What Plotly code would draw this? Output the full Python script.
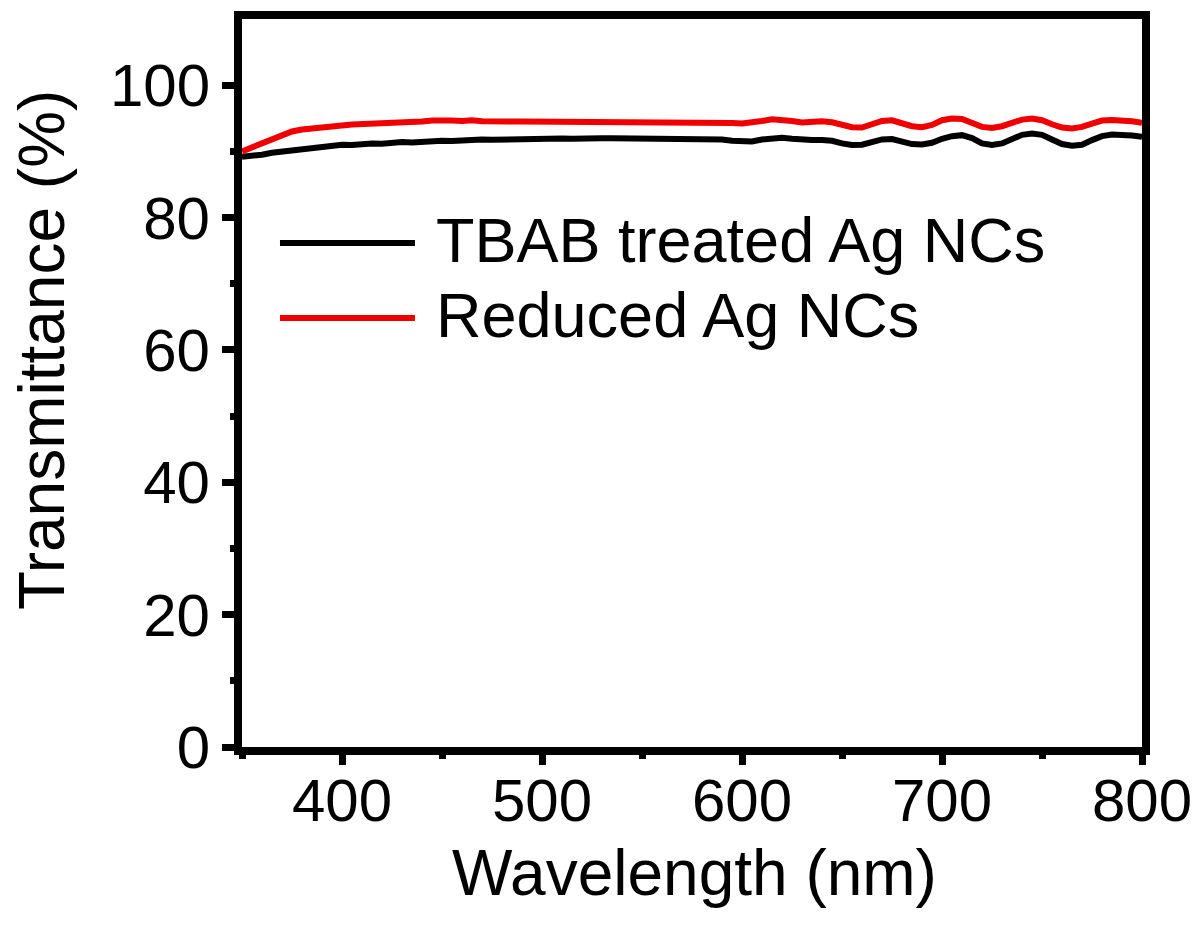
import plotly.graph_objects as go

wavelength = list(range(350, 805, 5))

tbab_treated = [
    89.2, 89.3, 89.5, 89.8, 90.0, 90.2, 90.4, 90.5, 90.7, 90.8,     # 350-395
    91.0, 90.95, 91.1, 91.2, 91.15, 91.3, 91.4, 91.35, 91.5, 91.45,  # 400-445
    91.6, 91.55, 91.7, 91.65, 91.8, 91.75, 91.8, 91.85, 91.8, 91.85, # 450-495
    91.9, 91.9, 91.95, 91.9, 92.0, 92.0, 92.0, 92.0, 92.0, 92.0,     # 500-545
    92.0, 92.0, 92.0, 92.0, 92.0, 91.85, 92.0, 91.95, 91.8, 91.6,    # 550-595
    91.45, 91.5, 91.8, 92.0, 92.05, 91.9, 91.75, 91.7, 91.7, 91.6,   # 600-645
    91.2, 90.95, 91.0, 91.4, 91.8, 91.85, 91.5, 91.1, 91.05, 91.3,   # 650-695
    91.9, 92.3, 92.45, 92.0, 91.2, 90.95, 91.2, 91.9, 92.5, 92.7,    # 700-745
    92.5, 91.8, 91.1, 90.85, 91.0, 91.7, 92.3, 92.55, 92.55, 92.4,   # 750-795
    92.2,                                                            # 800
]

reduced = [
    90.0, 90.6, 91.2, 91.9, 92.5, 93.0, 93.3, 93.5, 93.7, 93.8,      # 350-395
    93.9, 94.05, 94.1, 94.05, 94.2, 94.35, 94.3, 94.45, 94.5, 94.65, # 400-445
    94.55, 94.65, 94.6, 94.7, 94.55, 94.6, 94.5, 94.5, 94.5, 94.5,   # 450-495
    94.5, 94.5, 94.5, 94.5, 94.5, 94.5, 94.5, 94.5, 94.5, 94.5,      # 500-545
    94.5, 94.5, 94.5, 94.5, 94.5, 94.4, 94.45, 94.45, 94.4, 94.3,    # 550-595
    94.2, 94.3, 94.6, 94.85, 94.8, 94.6, 94.35, 94.45, 94.55, 94.4,  # 600-645
    94.0, 93.65, 93.6, 94.0, 94.6, 94.7, 94.3, 93.8, 93.65, 94.0,    # 650-695
    94.7, 94.95, 94.9, 94.4, 93.7, 93.55, 93.8, 94.3, 94.8, 94.95,   # 700-745
    94.7, 94.1, 93.6, 93.45, 93.7, 94.2, 94.65, 94.75, 94.7, 94.55,  # 750-795
    94.3,                                                            # 800
]

series_names = ["TBAB treated Ag NCs", "Reduced Ag NCs"]
series_colors = ["#000000", "#f00000"]

x_ticks = [400, 500, 600, 700, 800]
x_minor = [350, 450, 550, 650, 750]
y_ticks = [0, 20, 40, 60, 80, 100]
y_minor = [10, 30, 50, 70, 90]

FONT = "Liberation Sans, Arial, sans-serif"

fig = go.Figure()
for ys, name, col in zip([tbab_treated, reduced], series_names, series_colors):
    fig.add_trace(go.Scatter(x=wavelength, y=ys, mode="lines", name=name,
                             line=dict(color=col, width=6), showlegend=False))

# manual legend (long line samples as in reference)
leg_y = [0.6923, 0.5893]
for ly, name, col in zip(leg_y, series_names, series_colors):
    fig.add_shape(type="line", xref="paper", yref="paper",
                  x0=0.0422, x1=0.1922, y0=ly, y1=ly,
                  line=dict(color=col, width=6))
    fig.add_annotation(xref="paper", yref="paper", x=0.2167, y=ly,
                       xanchor="left", yanchor="middle", text=name,
                       xshift=-3, yshift=3,
                       showarrow=False, font=dict(size=63, color="#000000", family=FONT))

# axis titles
fig.add_annotation(xref="paper", yref="paper", x=0.5033, y=-0.1786,
                   xanchor="center", yanchor="middle", text="Wavelength (nm)",
                   yshift=4,
                   showarrow=False, font=dict(size=64, color="#000000", family=FONT))
fig.add_annotation(xref="paper", yref="paper", x=-0.2222, y=0.5453,
                   xanchor="center", yanchor="middle", text="Transmittance (%)",
                   textangle=-90,
                   showarrow=False, font=dict(size=64, color="#000000", family=FONT))

fig.update_layout(
    width=1204, height=936,
    margin=dict(l=242, r=62, t=19, b=189),
    plot_bgcolor="white", paper_bgcolor="white",
    font=dict(family=FONT, color="#000000"),
    showlegend=False,
)
fig.update_xaxes(
    range=[350, 800], tickvals=x_ticks, ticks="outside", ticklen=10, tickwidth=7,
    tickcolor="black", showline=True, linewidth=8, linecolor="black", mirror=True,
    showgrid=False, zeroline=False, tickfont=dict(size=60, family=FONT),
    automargin=False, ticklabelstandoff=-16,
    minor=dict(tickvals=x_minor, ticks="outside", ticklen=4,
               tickwidth=7, tickcolor="black", showgrid=False),
)
fig.update_yaxes(
    range=[0, 110], tickvals=y_ticks, ticks="outside", ticklen=12, tickwidth=7,
    tickcolor="black", showline=True, linewidth=8, linecolor="black", mirror=True,
    showgrid=False, zeroline=False, tickfont=dict(size=60, family=FONT),
    automargin=False,
    minor=dict(tickvals=y_minor, ticks="outside", ticklen=4,
               tickwidth=7, tickcolor="black", showgrid=False),
)

fig.write_html(
    "out.html",
    config={"displayModeBar": False},
    post_script="document.body.style.margin='0';document.body.style.padding='0';"
                "document.documentElement.style.overflow='hidden';",
)
